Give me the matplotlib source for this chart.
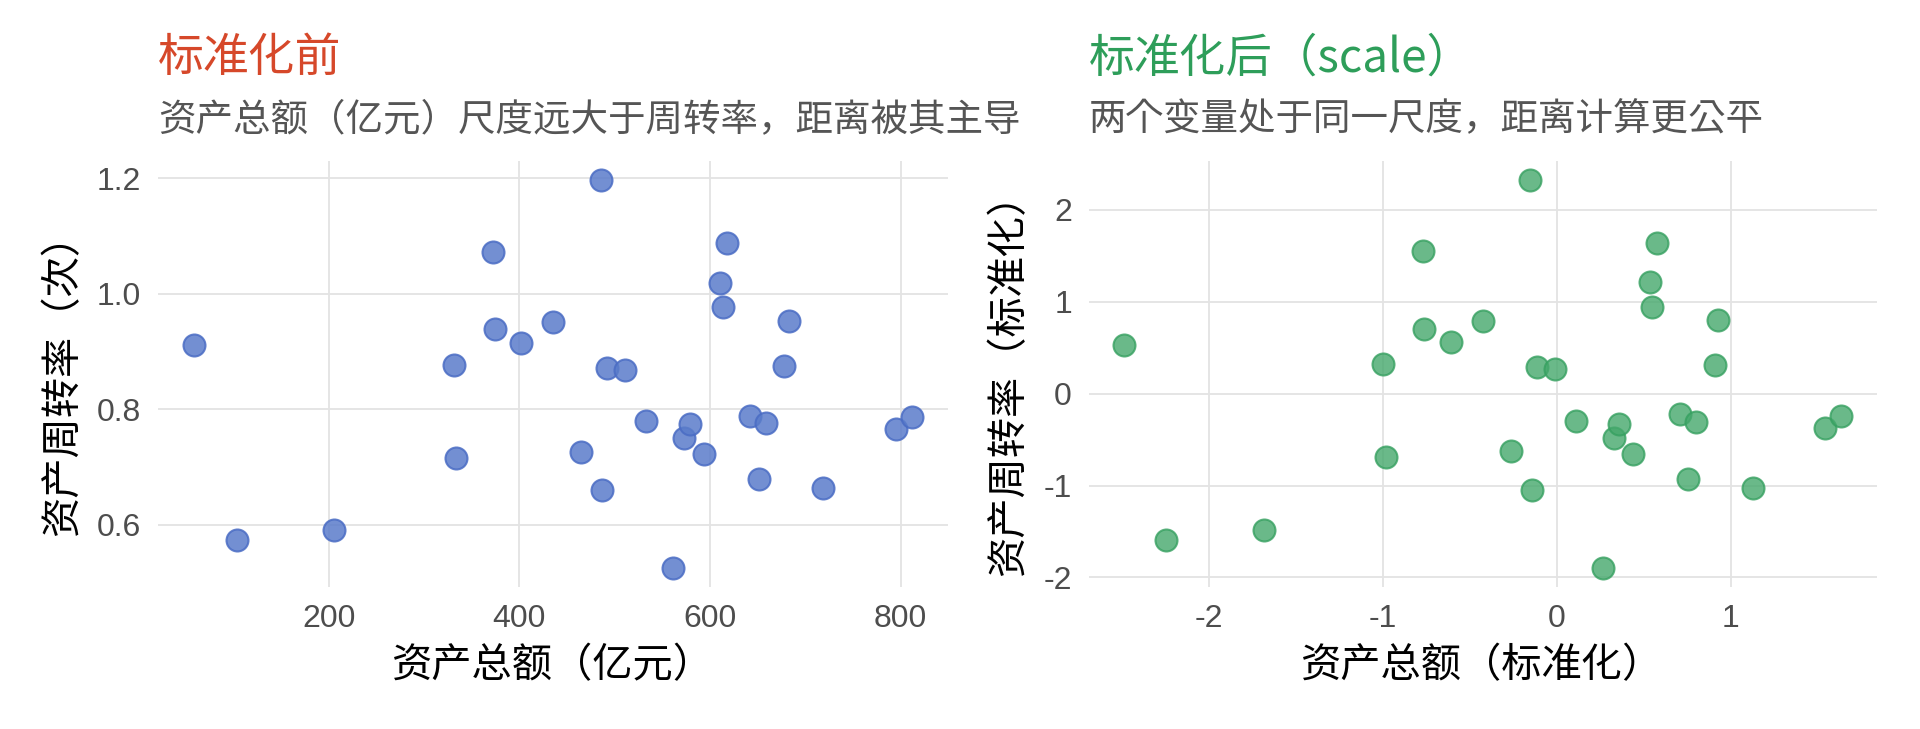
import numpy as np
import matplotlib
matplotlib.use('Agg')
import matplotlib.pyplot as plt

plt.rcParams['font.family'] = ['Noto Sans CJK KR', 'DejaVu Sans']
plt.rcParams['axes.unicode_minus'] = False

# raw data
assets = [58.5, 103.5, 205, 331, 334, 372, 374, 402, 435, 465,
          485.5, 487, 492, 511, 533, 561, 573, 579, 593.5, 610,
          614, 618, 642, 651, 659, 678, 683, 719, 795, 812]
turnover = [0.911, 0.574, 0.591, 0.877, 0.715, 1.072, 0.938, 0.915, 0.951, 0.726,
            1.196, 0.660, 0.872, 0.868, 0.779, 0.526, 0.751, 0.774, 0.723, 1.019,
            0.977, 1.087, 0.789, 0.679, 0.777, 0.874, 0.953, 0.664, 0.766, 0.787]

# standardized values
assets_z = [-2.486, -2.246, -1.683, -1.0, -0.979, -0.768, -0.761, -0.606, -0.423, -0.261,
            -0.155, -0.141, -0.113, -0.007, 0.113, 0.268, 0.331, 0.359, 0.437, 0.535,
            0.549, 0.577, 0.711, 0.754, 0.803, 0.908, 0.930, 1.127, 1.542, 1.634]
turnover_z = [0.533, -1.587, -1.48, 0.32, -0.693, 1.547, 0.707, 0.56, 0.787, -0.627,
              2.32, -1.053, 0.293, 0.267, -0.293, -1.893, -0.48, -0.333, -0.653, 1.213,
              0.947, 1.64, -0.227, -0.933, -0.307, 0.307, 0.8, -1.027, -0.373, -0.24]

W, H = 1920, 729
fig = plt.figure(figsize=(W / 100, H / 100), dpi=100)
fig.patch.set_facecolor('white')


def expand(vals, frac=0.05):
    lo, hi = min(vals), max(vals)
    pad = (hi - lo) * frac
    return lo - pad, hi + pad


def style_axes(ax):
    ax.set_facecolor('white')
    for sp in ax.spines.values():
        sp.set_visible(False)
    ax.grid(True, color='#e3e3e3', linewidth=1.3)
    ax.set_axisbelow(True)
    ax.tick_params(length=0, pad=12, labelsize=23, labelcolor='#4d4d4d')
    for lab in ax.get_xticklabels() + ax.get_yticklabels():
        lab.set_fontfamily(['Liberation Sans', 'DejaVu Sans'])


ax1 = fig.add_axes([158 / W, 1 - 587 / H, 790 / W, 426 / H])
ax1.scatter(assets, turnover, s=250, color='#5a7cca', alpha=0.85,
            edgecolors='#4a6cc4', linewidths=1.5, zorder=3)
ax1.set_xlim(*expand(assets))
ax1.set_ylim(*expand(turnover))
ax1.set_xticks([200, 400, 600, 800])
ax1.set_yticks([0.6, 0.8, 1.0, 1.2])
ax1.set_yticklabels(['0.6', '0.8', '1.0', '1.2'])
style_axes(ax1)
ax1.set_xlabel('资产总额（亿元）', fontsize=29, labelpad=8)
ax1.set_ylabel('资产周转率（次）', fontsize=29, labelpad=10)

ax2 = fig.add_axes([1088.6 / W, 1 - 587 / H, 788 / W, 426 / H])
ax2.scatter(assets_z, turnover_z, s=250, color='#45a86c', alpha=0.8,
            edgecolors='#36a060', linewidths=1.5, zorder=3)
ax2.set_xlim(*expand(assets_z))
ax2.set_ylim(*expand(turnover_z))
ax2.set_xticks([-2, -1, 0, 1])
ax2.set_yticks([-2, -1, 0, 1, 2])
style_axes(ax2)
ax2.set_xlabel('资产总额（标准化）', fontsize=29, labelpad=8)
ax2.set_ylabel('资产周转率（标准化）', fontsize=29, labelpad=10)

# titles and subtitles
fig.text(158 / W, 1 - 58 / H, '标准化前', fontsize=33, color='#d6482a',
         ha='left', va='center')
fig.text(158 / W, 1 - 120 / H, '资产总额（亿元）尺度远大于周转率，距离被其主导',
         fontsize=27, color='#555555', ha='left', va='center')
fig.text(1089 / W, 1 - 58 / H, '标准化后（scale）', fontsize=33, color='#2e9e5a',
         ha='left', va='center')
fig.text(1089 / W, 1 - 120 / H, '两个变量处于同一尺度，距离计算更公平',
         fontsize=27, color='#555555', ha='left', va='center')

fig.savefig('out.png', dpi=100, facecolor='white')
